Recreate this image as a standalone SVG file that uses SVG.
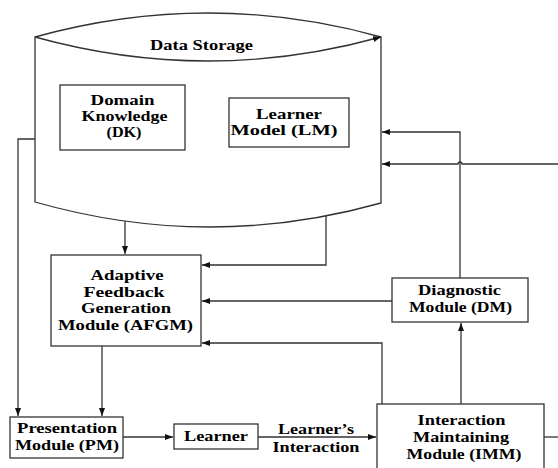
<svg xmlns="http://www.w3.org/2000/svg" width="558" height="468" viewBox="0 0 558 468">
<defs>
<marker id="ah" markerUnits="userSpaceOnUse" markerWidth="10" markerHeight="8" refX="8" refY="3" orient="auto">
<path d="M0,0 L8,3 L0,6 Z" fill="#111"/>
</marker>
<style>
.box{fill:#fff;stroke:#333;stroke-width:1.3}
.ln{fill:none;stroke:#333;stroke-width:1.3}
.t{font-family:"Liberation Serif","Times New Roman",serif;font-weight:bold;font-size:15px;fill:#000;text-anchor:middle}
</style>
</defs>
<rect width="558" height="468" fill="#fff"/>

<g id="data-storage">
<path class="box" d="M35,37 Q208,-11 381,37 L381,203 Q208,251.5 35,202 Z"/>
<path class="ln" d="M35,37 Q208,85 381,37" marker-end="url(#ah)"/>
<text class="t" x="201.5" y="50" textLength="103" lengthAdjust="spacingAndGlyphs">Data Storage</text>
</g>

<g id="dk">
<rect class="box" x="60" y="85" width="125" height="65"/>
<text class="t" x="122.5" y="105" textLength="64" lengthAdjust="spacingAndGlyphs">Domain</text>
<text class="t" x="124.5" y="121" textLength="86" lengthAdjust="spacingAndGlyphs">Knowledge</text>
<text class="t" x="124" y="137" textLength="35" lengthAdjust="spacingAndGlyphs">(DK)</text>
</g>

<g id="lm">
<rect class="box" x="229" y="98" width="120" height="49"/>
<text class="t" x="289" y="119" textLength="66" lengthAdjust="spacingAndGlyphs">Learner</text>
<text class="t" x="284" y="135" textLength="107" lengthAdjust="spacingAndGlyphs">Model (LM)</text>
</g>

<g id="afgm">
<rect class="box" x="51" y="255" width="150" height="91"/>
<text class="t" x="127" y="280" textLength="73" lengthAdjust="spacingAndGlyphs">Adaptive</text>
<text class="t" x="124" y="297" textLength="81" lengthAdjust="spacingAndGlyphs">Feedback</text>
<text class="t" x="126" y="313" textLength="90" lengthAdjust="spacingAndGlyphs">Generation</text>
<text class="t" x="125.5" y="330" textLength="135" lengthAdjust="spacingAndGlyphs">Module (AFGM)</text>
</g>

<g id="dm">
<rect class="box" x="392" y="278" width="136" height="44"/>
<text class="t" x="459.5" y="295" textLength="83" lengthAdjust="spacingAndGlyphs">Diagnostic</text>
<text class="t" x="460.5" y="312" textLength="103" lengthAdjust="spacingAndGlyphs">Module (DM)</text>
</g>

<g id="pm">
<rect class="box" x="10" y="417" width="113" height="41"/>
<text class="t" x="67" y="433" textLength="100" lengthAdjust="spacingAndGlyphs">Presentation</text>
<text class="t" x="67" y="450" textLength="104" lengthAdjust="spacingAndGlyphs">Module (PM)</text>
</g>

<g id="learner">
<rect class="box" x="174" y="424" width="84" height="25"/>
<text class="t" x="216" y="441" textLength="64" lengthAdjust="spacingAndGlyphs">Learner</text>
</g>

<g id="imm">
<rect class="box" x="377" y="404" width="167" height="70"/>
<text class="t" x="461.5" y="425" textLength="88" lengthAdjust="spacingAndGlyphs">Interaction</text>
<text class="t" x="461" y="442" textLength="96" lengthAdjust="spacingAndGlyphs">Maintaining</text>
<text class="t" x="464" y="459" textLength="115" lengthAdjust="spacingAndGlyphs">Module (IMM)</text>
</g>

<g id="connectors">
<path class="ln" d="M35,139 H18 V416" marker-end="url(#ah)"/>
<path class="ln" d="M125,221 V254" marker-end="url(#ah)"/>
<path class="ln" d="M326,216 V265 H202" marker-end="url(#ah)"/>
<path class="ln" d="M460,278 V132 H382" marker-end="url(#ah)"/>
<path class="ln" d="M558,164 H462 A2,2 0 0 0 458,164 H382" marker-end="url(#ah)"/>
<path class="ln" d="M392,301 H202" marker-end="url(#ah)"/>
<path class="ln" d="M382,404 V343 H202" marker-end="url(#ah)"/>
<path class="ln" d="M461,404 V323" marker-end="url(#ah)"/>
<path class="ln" d="M102,346 V416" marker-end="url(#ah)"/>
<path class="ln" d="M123,437 H173" marker-end="url(#ah)"/>
<path class="ln" d="M258,437 H376" marker-end="url(#ah)"/>
<path class="ln" d="M544,437 H558"/>
<text class="t" x="316" y="434" textLength="76" lengthAdjust="spacingAndGlyphs">Learner’s</text>
<text class="t" x="316" y="452" textLength="87" lengthAdjust="spacingAndGlyphs">Interaction</text>
</g>
</svg>
